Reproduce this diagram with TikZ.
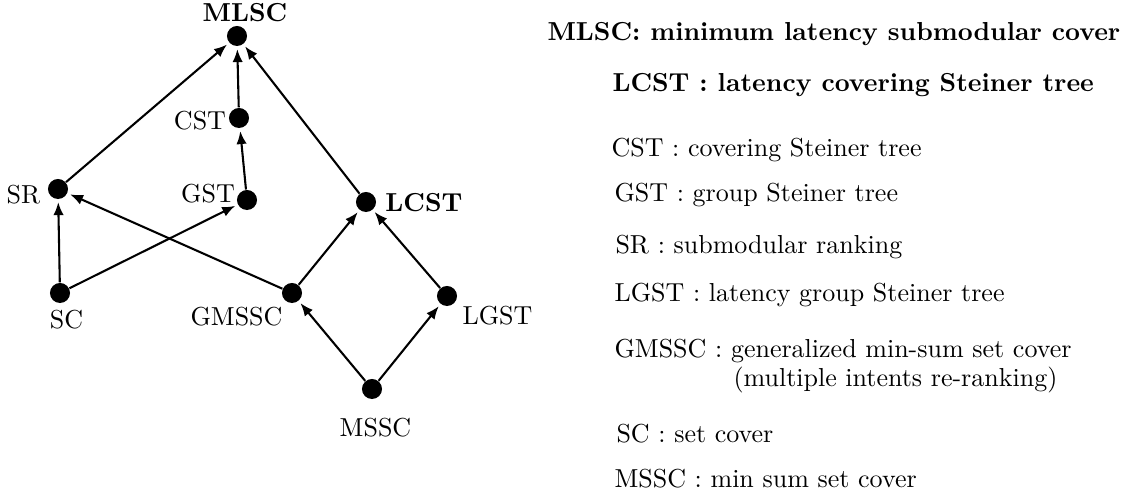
\documentclass[tikz,border=0pt]{standalone}
\usetikzlibrary{arrows.meta}
\begin{document}
\begin{tikzpicture}[x=0.3846pt,y=-0.3846pt,
  dot/.style={circle,fill=black,inner sep=0pt,minimum size=7.7pt},
  lbl/.style={inner sep=0pt,anchor=base},
  def/.style={inner sep=0pt,anchor=base west},
  edge/.style={line width=0.8pt,shorten >=1pt,-{Latex[length=5pt,width=4pt]}}]
\useasboundingbox (0,0) rectangle (1131,498);
% dots
\node[dot] (mlsc) at (237,36) {};
\node[dot] (cst) at (239,118) {};
\node[dot] (gst) at (247,200) {};
\node[dot] (sr) at (58,189) {};
\node[dot] (lcst) at (366,202) {};
\node[dot] (sc) at (60,293) {};
\node[dot] (gmssc) at (292,293) {};
\node[dot] (lgst) at (447,296) {};
\node[dot] (mssc) at (372,389) {};
% labels
\node[lbl,font=\bfseries] (lmlsc) at (245,22) {MLSC};
\node[lbl] (lcst2) at (200,130) {CST};
\node[lbl] (lgst2) at (208,203) {GST};
\node[lbl] (lsr) at (23.5,204) {SR};
\node[lbl,font=\bfseries] (llcst) at (424,212) {LCST};
\node[lbl] (lsc) at (66.5,329) {SC};
\node[lbl] (lgmssc) at (236.5,326) {GMSSC};
\node[lbl] (llgst) at (497.5,325) {LGST};
\node[lbl] (lmssc) at (375.5,437) {MSSC};
% edges
\draw[edge] (sr) -- (mlsc);
\draw[edge] (cst) -- (mlsc);
\draw[edge] (lcst) -- (mlsc);
\draw[edge] (gst) -- (cst);
\draw[edge] (sc) -- (sr);
\draw[edge] (sc) -- (gst);
\draw[edge] (gmssc) -- (sr);
\draw[edge] (gmssc) -- (lcst);
\draw[edge] (lgst) -- (lcst);
\draw[edge] (mssc) -- (gmssc);
\draw[edge] (mssc) -- (lgst);
% legend
\node[def,font=\bfseries] (d1) at (547,41) {MLSC: minimum latency submodular cover};
\node[def,font=\bfseries] (d2) at (612,92) {LCST : latency covering Steiner tree};
\node[def] (d3) at (611,157) {CST : covering Steiner tree};
\node[def] (d4) at (614,202) {GST : group Steiner tree};
\node[def] (d5) at (615,254) {SR : submodular ranking};
\node[def] (d6) at (614,302) {LGST : latency group Steiner tree};
\node[def] (d7) at (614,358) {GMSSC : generalized min-sum set cover};
\node[def] (d7b) at (733,387) {(multiple intents re-ranking)};
\node[def] (d8) at (616,443) {SC : set cover};
\node[def] (d9) at (614,488) {MSSC : min sum set cover};
\end{tikzpicture}
\end{document}
